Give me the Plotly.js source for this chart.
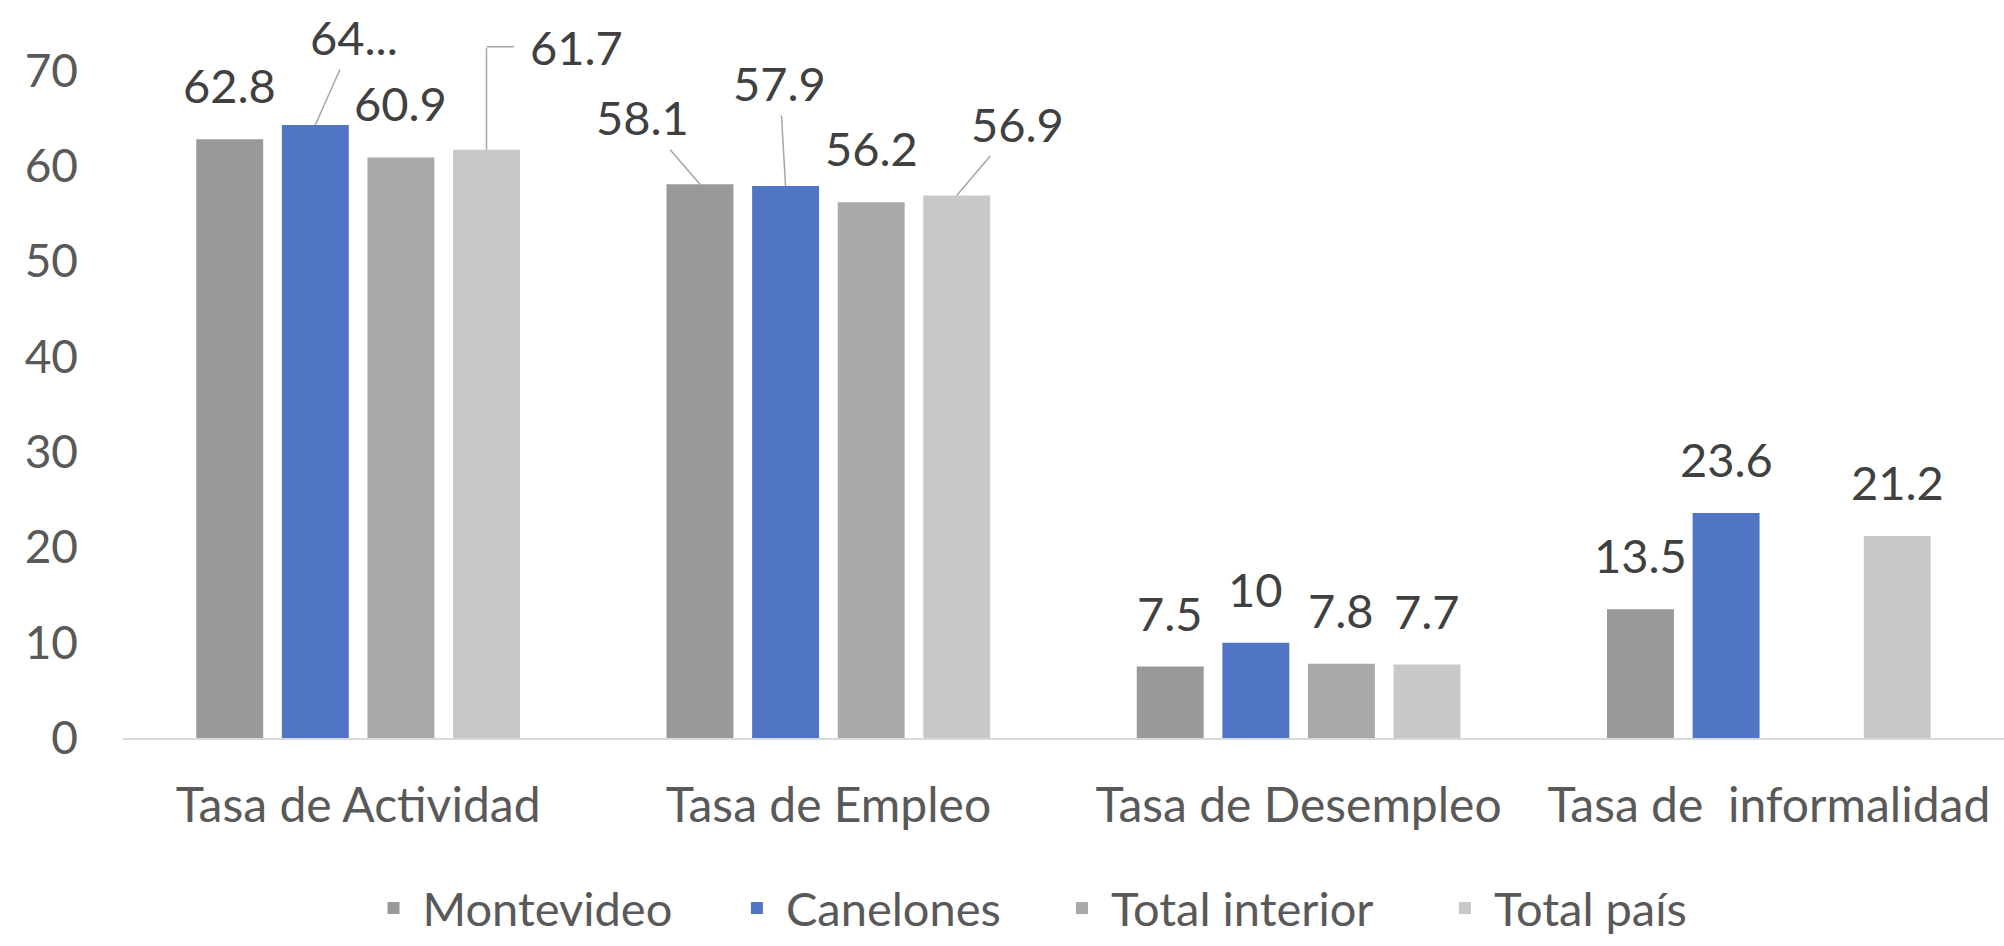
<!DOCTYPE html>
<html>
<head>
<meta charset="utf-8">
<script src="https://cdn.plot.ly/plotly-3.0.1.min.js"></script>
<style>
  html, body { margin: 0; padding: 0; background: #ffffff; }
  #chart { width: 2004px; height: 946px; }
</style>
</head>
<body>
<div id="chart"></div>
<script>
// ---- data ----
const categories = ['Tasa de Actividad', 'Tasa de Empleo', 'Tasa de Desempleo', 'Tasa de  informalidad'];
const seriesNames = ['Montevideo', 'Canelones', 'Total interior', 'Total país'];
const montevideo = [62.8, 58.1, 7.5, 13.5];
const canelones = [64.3, 57.9, 10, 23.6];
const totalInterior = [60.9, 56.2, 7.8, null];
const totalPais = [61.7, 56.9, 7.7, 21.2];
const yTickValues = [0, 10, 20, 30, 40, 50, 60, 70];
// label shown truncated in the source chart
const labelOverrides = [{ series: 1, category: 0, text: '64...' }];

// ---- style ----
const seriesColors = ['#999999', '#4f75c4', '#a9a9ab', '#c8c8c8'];
const FONT = 'Lato, "Open Sans", sans-serif';
const BARGAP = 0.272;
const BARGROUPGAP = 0.218;
const LABEL_DY = -54;
const LEADER_COLOR = '#a6a6a6';
// legend item anchor positions (paper fraction), one legend box per series
const legendX = [0.1284, 0.3216, 0.4944, 0.6980];
const LEGEND_Y = -0.2834;
// callouts: pixel offset of label center relative to bar top
const callouts = [
  { series: 1, category: 0, dx: 39, dy: -88 },
  { series: 3, category: 0, dx: 90, dy: -103, elbow: 29 },
  { series: 0, category: 1, dx: -58, dy: -67 },
  { series: 1, category: 1, dx: -6, dy: -103 },
  { series: 3, category: 1, dx: 61, dy: -72 }
];

const seriesValues = [montevideo, canelones, totalInterior, totalPais];
const legendIds = ['legend', 'legend2', 'legend3', 'legend4'];

const traces = seriesValues.map((vals, i) => ({
  type: 'bar',
  name: seriesNames[i],
  x: categories,
  y: vals,
  legend: legendIds[i],
  marker: { color: seriesColors[i], line: { width: 0 } },
  hoverinfo: 'none',
  textposition: 'none'
}));

// bar centre offsets within a category group
const nSeries = seriesValues.length;
const groupW = 1 - BARGAP;
function offsetOf(i) { return -groupW / 2 + (i + 0.5) * groupW / nSeries; }

const annotations = [];
seriesValues.forEach((vals, i) => {
  vals.forEach((v, j) => {
    if (v === null || v === undefined) return;
    const ov = labelOverrides.find(o => o.series === i && o.category === j);
    const text = ov ? ov.text : String(v);
    const co = callouts.find(c => c.series === i && c.category === j);
    const base = {
      x: j + offsetOf(i), y: v, xref: 'x', yref: 'y',
      font: { family: FONT, size: 47, color: '#404040' }
    };
    if (!co) {
      annotations.push(Object.assign({}, base, {
        text: text, showarrow: false, xanchor: 'center', yanchor: 'middle', yshift: -LABEL_DY
      }));
    } else if (co.elbow) {
      annotations.push(Object.assign({}, base, {
        text: '', showarrow: true, arrowhead: 0, arrowwidth: 1.5, arrowcolor: LEADER_COLOR,
        ax: 0, ay: co.dy, standoff: 0, startstandoff: 0
      }));
      annotations.push(Object.assign({}, base, {
        text: '', showarrow: true, arrowhead: 0, arrowwidth: 1.5, arrowcolor: LEADER_COLOR,
        ax: co.elbow, ay: 0, yshift: -co.dy, standoff: 0, startstandoff: 0
      }));
      annotations.push(Object.assign({}, base, {
        text: text, showarrow: false, xanchor: 'center', yanchor: 'middle',
        xshift: co.dx, yshift: -co.dy
      }));
    } else {
      annotations.push(Object.assign({}, base, {
        text: text, showarrow: true, arrowhead: 0, arrowwidth: 1.5, arrowcolor: LEADER_COLOR,
        ax: co.dx, ay: co.dy, standoff: 0, borderpad: 4
      }));
    }
  });
});

function legendBox(x) {
  return {
    orientation: 'h',
    x: x, xanchor: 'left',
    y: LEGEND_Y, yanchor: 'bottom',
    itemwidth: 48,
    font: { family: FONT, size: 47, color: '#595959' },
    itemclick: false, itemdoubleclick: false,
    bgcolor: 'rgba(0,0,0,0)', borderwidth: 0
  };
}

const layout = {
  width: 2004,
  height: 946,
  margin: { l: 123, r: 0, t: 4, b: 208, autoexpand: false },
  paper_bgcolor: '#ffffff',
  plot_bgcolor: '#ffffff',
  barmode: 'group',
  bargap: BARGAP,
  bargroupgap: BARGROUPGAP,
  showlegend: true,
  legend: legendBox(legendX[0]),
  legend2: legendBox(legendX[1]),
  legend3: legendBox(legendX[2]),
  legend4: legendBox(legendX[3]),
  xaxis: {
    type: 'category',
    range: [-0.5, 3.5],
    showgrid: false,
    zeroline: false,
    showline: true,
    linecolor: '#d9d9d9',
    linewidth: 2,
    layer: 'below traces',
    ticks: '',
    ticklabelstandoff: 24,
    tickfont: { family: FONT, size: 48, color: '#595959' },
    fixedrange: true
  },
  yaxis: {
    range: [0, 77],
    tickvals: yTickValues,
    ticktext: yTickValues.map(String),
    showgrid: false,
    zeroline: false,
    showline: false,
    ticks: '',
    ticklabelstandoff: 44,
    tickfont: { family: FONT, size: 46, color: '#595959' },
    fixedrange: true
  },
  annotations: annotations
};

Plotly.newPlot('chart', traces, layout, { displayModeBar: false, staticPlot: true });
</script>
</body>
</html>
